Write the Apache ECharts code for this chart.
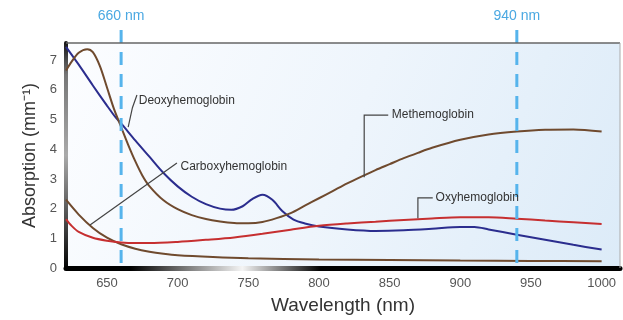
<!DOCTYPE html>
<html><head><meta charset="utf-8">
<script src="https://cdn.jsdelivr.net/npm/echarts@6/dist/echarts.min.js"></script>
<style>html,body{margin:0;padding:0;background:#fff}#c{width:623px;height:320px}</style>
</head><body><div id="c"></div>
<script>
// ---- data ----
const deoxyNm  = [621,630,640,650,656,660,670,680,690,700,710,720,730,738,746,753,760,767,774,782,790,800,820,840,860,880,900,910,920,940,960,980,1000];
const deoxyVal = [7.45,6.85,6.15,5.47,5.08,4.87,4.3,3.75,3.2,2.75,2.4,2.15,2.0,1.96,2.08,2.33,2.47,2.3,1.92,1.63,1.5,1.4,1.3,1.25,1.27,1.32,1.38,1.38,1.3,1.12,0.95,0.78,0.62];
const metNm    = [621,625,630,636,640,645,650,655,660,665,670,675,680,690,700,710,720,730,740,750,760,770,780,790,800,810,820,830,840,850,860,870,880,900,920,940,960,980,1000];
const metVal   = [6.65,6.95,7.25,7.37,7.27,6.8,6.08,5.35,4.75,4.15,3.6,3.12,2.76,2.28,1.98,1.78,1.65,1.57,1.52,1.51,1.55,1.68,1.85,2.1,2.35,2.6,2.85,3.08,3.3,3.5,3.7,3.88,4.05,4.32,4.5,4.6,4.66,4.67,4.6];
const carbNm   = [621,630,640,650,660,670,680,690,700,725,750,800,850,900,950,1000];
const carbVal  = [2.3,1.8,1.35,1.02,0.8,0.65,0.55,0.48,0.43,0.37,0.33,0.29,0.27,0.25,0.24,0.23];
const oxyNm    = [621,625,630,640,650,660,670,680,700,720,740,760,780,800,820,840,860,880,900,920,940,960,980,1000];
const oxyVal   = [1.65,1.42,1.22,1.02,0.92,0.86,0.84,0.84,0.88,0.95,1.03,1.15,1.29,1.42,1.5,1.56,1.62,1.67,1.71,1.71,1.66,1.6,1.54,1.48];
const xTicks   = [650,700,750,800,850,900,950,1000];
const yTicks   = [0,1,2,3,4,5,6,7];
const markers  = [660, 940];
const labels   = ['Deoxyhemoglobin','Carboxyhemoglobin','Methemoglobin','Oxyhemoglobin'];

const zip = (a,b) => a.map((v,i)=>[v,b[i]]);
const chart = echarts.init(document.getElementById('c'), null, {renderer:'canvas'});
const G = echarts.graphic;
const font = 'Liberation Sans, Arial, sans-serif';

function ser(name, nm, val, color){
  return {name, type:'line', data: zip(nm,val), smooth:0.3, symbol:'none',
    lineStyle:{color, width:2}, z:5};
}
chart.setOption({
  animation:false,
  grid:{left:66, right:3, top:43, bottom:52, show:true, containLabel:false, outerBoundsMode:'none',
    backgroundColor: new G.LinearGradient(0,0,1,1,[{offset:0,color:'#fcfdff'},{offset:0.5,color:'#eef5fc'},{offset:1,color:'#dcebf8'}]),
    borderColor:'transparent'},
  xAxis:{type:'value', min:621, max:1013,
    name:'Wavelength (nm)', nameLocation:'middle', nameGap:28,
    nameTextStyle:{fontSize:19, color:'#333', fontFamily:font},
    axisLine:{onZero:false, lineStyle:{width:5, color:new G.LinearGradient(0,0,1,0,[
      {offset:0,color:'#000'},{offset:0.12,color:'#000'},{offset:0.32,color:'#f4f4f4'},{offset:0.46,color:'#000'},{offset:1,color:'#000'}])}},
    axisTick:{show:false},
    axisLabel:{customValues:xTicks, color:'#555', fontSize:13, fontFamily:font, margin:9, formatter:v=>String(v)},
    splitLine:{show:false}},
  yAxis:{type:'value', min:0, max:7.58,
    name:'Absorption (mm\u207B\u00B9)', nameLocation:'middle', nameGap:27, nameRotate:90,
    nameTextStyle:{fontSize:18, color:'#333', fontFamily:font},
    axisLine:{show:true, lineStyle:{width:4, color:new G.LinearGradient(0,0,0,1,[
      {offset:0,color:'#111'},{offset:0.15,color:'#777'},{offset:0.5,color:'#aaa'},{offset:0.8,color:'#444'},{offset:1,color:'#000'}])}},
    axisTick:{show:false},
    axisLabel:{customValues:yTicks, color:'#555', fontSize:13, fontFamily:font, margin:9},
    splitLine:{show:false}},
  series:[
    ser(labels[0], deoxyNm, deoxyVal, '#2b2d8e'),
    ser(labels[2], metNm, metVal, '#6f4a2e'),
    ser(labels[1], carbNm, carbVal, '#6f4a2e'),
    ser(labels[3], oxyNm, oxyVal, '#c62f30')
  ]
});

const P = (x,y) => chart.convertToPixel({gridIndex:0}, [x,y]);
const els = [];
const tl = P(621,7.58), br = P(1013,0);
els.push({type:'line', shape:{x1:tl[0],y1:tl[1],x2:br[0],y2:tl[1]}, style:{stroke:'#666', lineWidth:1.5}, z:10});
els.push({type:'line', shape:{x1:br[0],y1:tl[1],x2:br[0],y2:br[1]}, style:{stroke:'#aaa', lineWidth:1}, z:10});
markers.forEach(m=>{
  const b = P(m,0);
  els.push({type:'line', shape:{x1:b[0],y1:30,x2:b[0],y2:b[1]-2},
    style:{stroke:'#56b4ec', lineWidth:3, lineDash:[13,9]}, z:6});
  els.push({type:'text', x:b[0], y:16, style:{text:m+' nm', fill:'#4aa8e2', font:'14px '+font, align:'center', verticalAlign:'middle'}, z:10});
});
const ann = [
  [labels[0], [672.5,5.62], [[665,4.75],[668,5.4],[671.2,5.83]]],
  [labels[1], [702,3.4],   [[699.5,3.54],[638,1.45]]],
  [labels[2], [851.5,5.15],[[849,5.15],[832,5.15],[832,3.06]]],
  [labels[3], [882.5,2.36],[[880.5,2.36],[870,2.36],[870,1.68]]]
];
ann.forEach(a=>{
  const t = P(a[1][0],a[1][1]);
  els.push({type:'text', x:t[0], y:t[1], style:{text:a[0], fill:'#333', font:'12px '+font, verticalAlign:'middle'}, z:10});
  els.push({type:'polyline', shape:{points:a[2].map(p=>P(p[0],p[1]))}, style:{stroke:'#444', lineWidth:1.2, fill:null}, z:9});
});
chart.setOption({graphic:{elements:els}});
</script></body></html>
